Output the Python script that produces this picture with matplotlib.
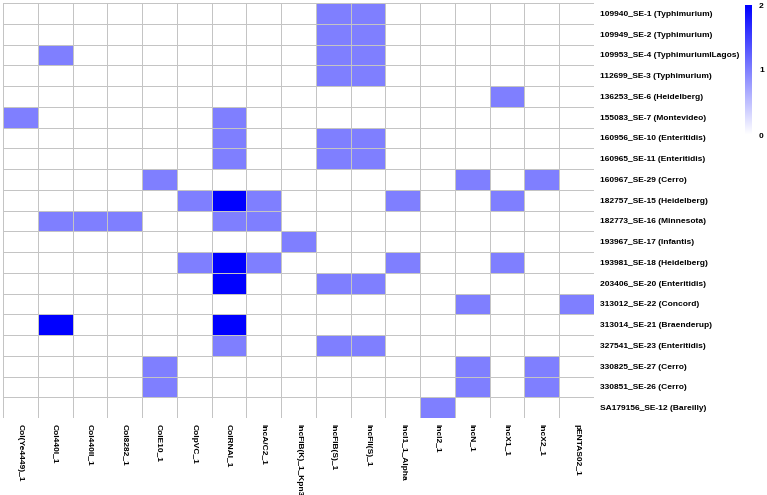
import numpy as np
import matplotlib
matplotlib.use("Agg")
import matplotlib.pyplot as plt
from matplotlib.colors import LinearSegmentedColormap

plt.rcParams['font.family'] = ['Liberation Sans', 'DejaVu Sans']

replicons = ["Col(Ye4449)_1", "Col440I_1", "Col440II_1", "Col8282_1", "ColE10_1",
             "ColpVC_1", "ColRNAI_1", "IncA/C2_1", "IncFIB(K)_1_Kpn3", "IncFIB(S)_1",
             "IncFII(S)_1", "IncI1_1_Alpha", "IncI2_1", "IncN_1", "IncX1_1",
             "IncX2_1", "pENTAS02_1"]

isolates = ["109940_SE-1 (Typhimurium)", "109949_SE-2 (Typhimurium)",
            "109953_SE-4 (TyphimuriumILagos)", "112699_SE-3 (Typhimurium)",
            "136253_SE-6 (Heidelberg)", "155083_SE-7 (Montevideo)",
            "160956_SE-10 (Enteritidis)", "160965_SE-11 (Enteritidis)",
            "160967_SE-29 (Cerro)", "182757_SE-15 (Heidelberg)",
            "182773_SE-16 (Minnesota)", "193967_SE-17 (Infantis)",
            "193981_SE-18 (Heidelberg)", "203406_SE-20 (Enteritidis)",
            "313012_SE-22 (Concord)", "313014_SE-21 (Braenderup)",
            "327541_SE-23 (Enteritidis)", "330825_SE-27 (Cerro)",
            "330851_SE-26 (Cerro)", "SA179156_SE-12 (Bareilly)"]

# copy counts per isolate (rows) x replicon (columns)
counts = np.array([
    [0, 0, 0, 0, 0, 0, 0, 0, 0, 1, 1, 0, 0, 0, 0, 0, 0],
    [0, 0, 0, 0, 0, 0, 0, 0, 0, 1, 1, 0, 0, 0, 0, 0, 0],
    [0, 1, 0, 0, 0, 0, 0, 0, 0, 1, 1, 0, 0, 0, 0, 0, 0],
    [0, 0, 0, 0, 0, 0, 0, 0, 0, 1, 1, 0, 0, 0, 0, 0, 0],
    [0, 0, 0, 0, 0, 0, 0, 0, 0, 0, 0, 0, 0, 0, 1, 0, 0],
    [1, 0, 0, 0, 0, 0, 1, 0, 0, 0, 0, 0, 0, 0, 0, 0, 0],
    [0, 0, 0, 0, 0, 0, 1, 0, 0, 1, 1, 0, 0, 0, 0, 0, 0],
    [0, 0, 0, 0, 0, 0, 1, 0, 0, 1, 1, 0, 0, 0, 0, 0, 0],
    [0, 0, 0, 0, 1, 0, 0, 0, 0, 0, 0, 0, 0, 1, 0, 1, 0],
    [0, 0, 0, 0, 0, 1, 2, 1, 0, 0, 0, 1, 0, 0, 1, 0, 0],
    [0, 1, 1, 1, 0, 0, 1, 1, 0, 0, 0, 0, 0, 0, 0, 0, 0],
    [0, 0, 0, 0, 0, 0, 0, 0, 1, 0, 0, 0, 0, 0, 0, 0, 0],
    [0, 0, 0, 0, 0, 1, 2, 1, 0, 0, 0, 1, 0, 0, 1, 0, 0],
    [0, 0, 0, 0, 0, 0, 2, 0, 0, 1, 1, 0, 0, 0, 0, 0, 0],
    [0, 0, 0, 0, 0, 0, 0, 0, 0, 0, 0, 0, 0, 1, 0, 0, 1],
    [0, 2, 0, 0, 0, 0, 2, 0, 0, 0, 0, 0, 0, 0, 0, 0, 0],
    [0, 0, 0, 0, 0, 0, 1, 0, 0, 1, 1, 0, 0, 0, 0, 0, 0],
    [0, 0, 0, 0, 1, 0, 0, 0, 0, 0, 0, 0, 0, 1, 0, 1, 0],
    [0, 0, 0, 0, 1, 0, 0, 0, 0, 0, 0, 0, 0, 1, 0, 1, 0],
    [0, 0, 0, 0, 0, 0, 0, 0, 0, 0, 0, 0, 1, 0, 0, 0, 0],
])

W, H = 767, 495
cmap = LinearSegmentedColormap.from_list("wb", ["#ffffff", "#0000ff"])

fig = plt.figure(figsize=(W / 100, H / 100), dpi=100)
ax = fig.add_axes([3 / W, 1 - 418 / H, 591 / W, 415 / H])

mesh = ax.pcolormesh(counts, cmap=cmap, vmin=0, vmax=2,
                     edgecolors="#c4c4c4", linewidth=0.6)
ax.set_xlim(0, len(replicons))
ax.set_ylim(len(isolates), 0)
for s in ax.spines.values():
    s.set_visible(False)

ax.set_xticks(np.arange(len(replicons)) + 0.5)
ax.set_xticklabels(replicons, rotation=270, fontsize=6, fontweight="bold",
                   ha="center", va="top")
ax.set_yticks(np.arange(len(isolates)) + 0.5)
ax.set_yticklabels(isolates, fontsize=6, fontweight="bold")
ax.yaxis.tick_right()
ax.tick_params(axis="both", length=0)
ax.tick_params(axis="y", pad=4.5)
ax.tick_params(axis="x", pad=4)

# colour legend
cax = fig.add_axes([745 / W, 1 - 135 / H, 7 / W, 130 / H])
cb = fig.colorbar(mesh, cax=cax, ticks=[0, 1, 2])
cb.outline.set_visible(False)
cb.ax.tick_params(length=0, pad=5)
for t in cb.ax.get_yticklabels():
    t.set_fontsize(6)
    t.set_fontweight("bold")

fig.savefig("out.png", dpi=100)
